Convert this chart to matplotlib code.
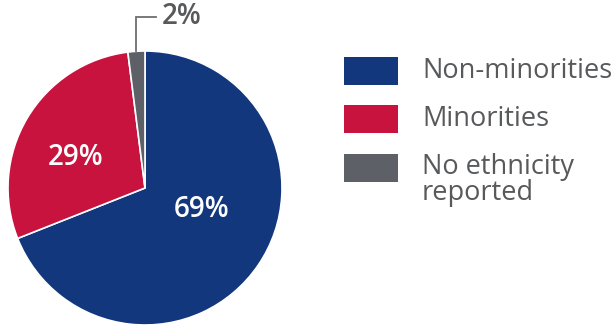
import matplotlib
matplotlib.use("Agg")
import matplotlib.pyplot as plt
from matplotlib.patches import Rectangle

categories = ["Non-minorities", "Minorities", "No ethnicity\nreported"]
values = [69, 29, 2]
pct_labels = ["69%", "29%", "2%"]
colors = ["#13377D", "#C8133F", "#5E6067"]
text_gray = "#58595B"

plt.rcParams['font.family'] = ['Open Sans', 'DejaVu Sans']

W, H = 612, 325
fig = plt.figure(figsize=(W / 100, H / 100), dpi=100)

cx, cy, R = 145, 188, 137
ax = fig.add_axes([(cx - R) / W, (H - cy - R) / H, 2 * R / W, 2 * R / H])
wedges, _ = ax.pie(values, colors=colors, startangle=90, counterclock=False,
                   radius=1, wedgeprops=dict(edgecolor="white", linewidth=1.2))
ax.set_xlim(-1, 1)
ax.set_ylim(-1, 1)
ax.set_aspect("equal")
ax.axis("off")

# percentage labels
ax.text(0.41, -0.16, pct_labels[0], color="white", fontsize=20, fontweight="semibold",
        ha="center", va="center")
ax.text(-0.51, 0.22, pct_labels[1], color="white", fontsize=20, fontweight="semibold",
        ha="center", va="center")
# leader line + small label
ax.plot([-0.066, -0.066, 0.08], [1.0, 1.245, 1.245], color="#6D6E71", lw=1.3,
        clip_on=False, solid_joinstyle="miter")
ax.text(0.125, 1.255, pct_labels[2], color=text_gray, fontsize=20, fontweight="semibold",
        ha="left", va="center")

# legend drawn in pixel coordinates
def px(x, y):
    return x / W, 1 - y / H

box_tops = [57, 105, 154]
for i, (lab, col) in enumerate(zip(categories, colors)):
    top = box_tops[i]
    x0, y0 = px(344, top + 28)
    fig.add_artist(Rectangle((x0, y0), 54 / W, 28 / H, transform=fig.transFigure,
                             facecolor=col, edgecolor="none"))
    if "\n" in lab:
        tx, ty = px(422, top - 1)
        fig.text(tx, ty, lab, color=text_gray, fontsize=19.5, ha="left", va="top",
                 linespacing=0.92)
    else:
        tx, ty = px(422, top + 14)
        fig.text(tx, ty, lab, color=text_gray, fontsize=19.5, ha="left", va="center")

fig.savefig("out.png", dpi=100)
